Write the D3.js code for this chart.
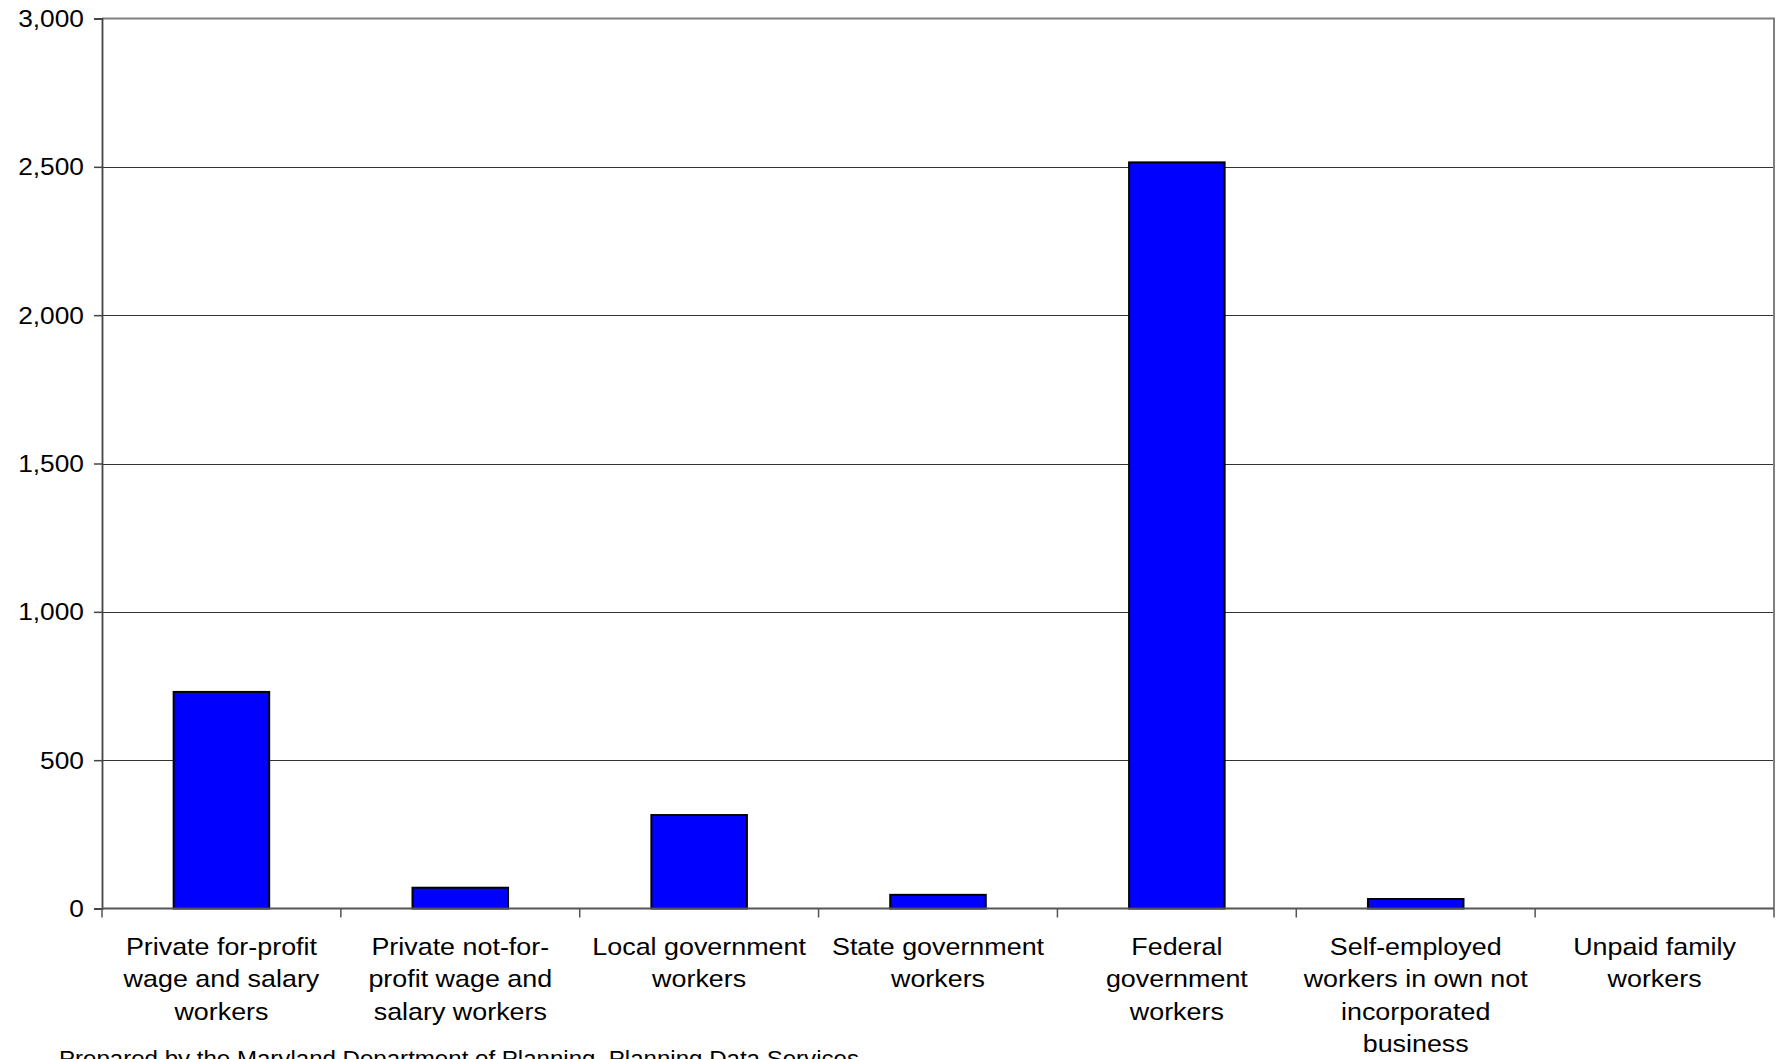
<!DOCTYPE html>
<html>
<head>
<meta charset="utf-8">
<script src="https://cdn.jsdelivr.net/npm/d3@7"></script>
<style>
  html, body { margin: 0; padding: 0; background: #fff; overflow: hidden; }
  svg { display: block; font-family: "Liberation Sans", Arial, sans-serif; }
</style>
</head>
<body>
<svg id="chart" width="1779" height="1059"></svg>
<script>
// ---- data ----
const categories = [
  "Private for-profit wage and salary workers",
  "Private not-for-profit wage and salary workers",
  "Local government workers",
  "State government workers",
  "Federal government workers",
  "Self-employed workers in own not incorporated business",
  "Unpaid family workers"
];
const categoryLines = [
  ["Private for-profit", "wage and salary", "workers"],
  ["Private not-for-", "profit wage and", "salary workers"],
  ["Local government", "workers"],
  ["State government", "workers"],
  ["Federal", "government", "workers"],
  ["Self-employed", "workers in own not", "incorporated", "business"],
  ["Unpaid family", "workers"]
];
const values = [730, 70, 315, 46, 2515, 32, 0];
const yTicks = [0, 500, 1000, 1500, 2000, 2500, 3000];
const footerText = "Prepared by the Maryland Department of Planning, Planning Data Services";

// ---- layout ----
const svg = d3.select("#chart");
const pLeft = 102, pRight = 1774, pTop = 18.5, pBottom = 908.5;
const sx = 1.12; // horizontal text stretch seen in reference

const x = d3.scaleBand().domain(categories).range([pLeft, pRight]).paddingInner(0).paddingOuter(0);
const y = d3.scaleLinear().domain([0, 3000]).range([pBottom, pTop]);

// gridlines
svg.append("g").selectAll("line")
  .data(yTicks.filter(d => d > 0 && d < 3000))
  .join("line")
  .attr("x1", pLeft).attr("x2", pRight)
  .attr("y1", d => Math.round(y(d)) + 0.5).attr("y2", d => Math.round(y(d)) + 0.5)
  .attr("stroke", "#333").attr("stroke-width", 1);

// plot border (top, right) in gray
svg.append("path")
  .attr("d", `M${pLeft},${pTop}H${pRight}V${pBottom}`)
  .attr("fill", "none").attr("stroke", "#808080").attr("stroke-width", 2);

// bars
const bw = x.bandwidth() / 2.5;
svg.append("g").selectAll("rect")
  .data(values.map((v, i) => ({ v, c: categories[i] })).filter(d => d.v > 0))
  .join("rect")
  .attr("x", d => x(d.c) + (x.bandwidth() - bw) / 2)
  .attr("width", bw)
  .attr("y", d => y(d.v))
  .attr("height", d => y(0) - y(d.v))
  .attr("fill", "#0000FF")
  .attr("stroke", "#000").attr("stroke-width", 2);

// y axis
const yAxis = svg.append("g").attr("transform", `translate(${pLeft},0)`)
  .call(d3.axisLeft(y).tickValues(yTicks).tickSize(8).tickPadding(10).tickFormat(d3.format(",")));
yAxis.select(".domain").attr("stroke", "#444").attr("stroke-width", 1.8);
yAxis.selectAll(".tick line").attr("stroke", "#444").attr("stroke-width", 1.5);
yAxis.selectAll(".tick text")
  .attr("font-size", 23.5).attr("fill", "#000")
  .attr("font-family", "Liberation Sans, Arial, sans-serif")
  .attr("dy", "0.34em")
  .each(function() {
    const t = d3.select(this);
    const xx = +t.attr("x");
    t.attr("x", null).attr("transform", `translate(${xx},0) scale(${sx},1)`);
  });

// x axis baseline
svg.append("line")
  .attr("x1", pLeft).attr("x2", pRight).attr("y1", pBottom).attr("y2", pBottom)
  .attr("stroke", "#555").attr("stroke-width", 2);

// x category ticks at band boundaries
const boundaries = categories.map(c => x(c)).concat([pRight]);
svg.append("g").selectAll("line")
  .data(boundaries)
  .join("line")
  .attr("x1", d => d).attr("x2", d => d)
  .attr("y1", pBottom).attr("y2", pBottom + 9)
  .attr("stroke", "#555").attr("stroke-width", 1.5);

// category labels
const lab = svg.append("g");
categories.forEach((c, i) => {
  const cx = x(c) + x.bandwidth() / 2;
  const t = lab.append("text")
    .attr("transform", `translate(${cx},955) scale(${sx},1)`)
    .attr("text-anchor", "middle")
    .attr("font-size", 24)
    .attr("fill", "#000");
  categoryLines[i].forEach((ln, j) => {
    t.append("tspan").attr("x", 0).attr("y", j * 32.5).text(ln);
  });
});

// footer
svg.append("text")
  .attr("transform", `translate(59,1066) scale(${sx},1)`)
  .attr("font-size", 21.5)
  .attr("fill", "#000")
  .text(footerText);
</script>
</body>
</html>
